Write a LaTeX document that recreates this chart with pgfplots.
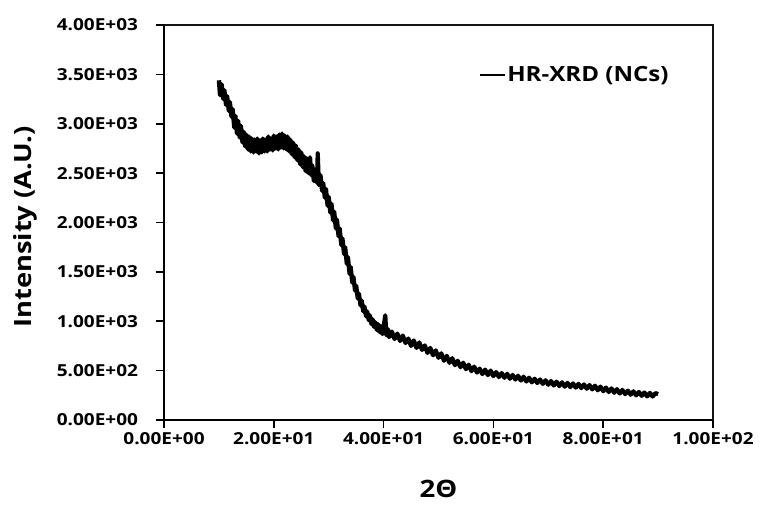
\documentclass[border=0pt]{standalone}
\usepackage{fontspec}
\setmainfont{Open Sans}[FakeStretch=1.15]
\usepackage{pgfplots}
\pgfplotsset{compat=1.18}
\definecolor{boxgray}{RGB}{20,20,20}
\begin{document}
\begin{tikzpicture}
\path (-123pt,-63pt) rectangle (449.25pt,315pt);
\begin{axis}[
  at={(0pt,0pt)}, anchor=south west,
  scale only axis, width=411.75pt, height=296.25pt,
  xmin=0, xmax=100, ymin=0, ymax=4000,
  xtick={0,20,40,60,80,100},
  ytick={0,500,1000,1500,2000,2500,3000,3500,4000},
  xticklabels={0.00E+00,2.00E+01,4.00E+01,6.00E+01,8.00E+01,1.00E+02},
  yticklabels={0.00E+00,5.00E+02,1.00E+03,1.50E+03,2.00E+03,2.50E+03,3.00E+03,3.50E+03,4.00E+03},
  xtick pos=left, ytick pos=left,
  tick align=outside, major tick length=6pt,
  major tick style={line width=1.2pt, black},
  axis line style={line width=1.5pt, black},
  ticklabel style={font=\fontsize{12.4}{15}\selectfont\bfseries},
  yticklabel style={xshift=-10pt},
  xlabel={2Θ}, ylabel={Intensity (A.U.)},
  xlabel style={at={(axis description cs:0.5,-0.1747)}, anchor=center, font=\fontsize{18}{20}\selectfont\bfseries},
  ylabel style={at={(axis description cs:-0.2532,0.489)}, anchor=center, font=\fontsize{17.8}{20}\selectfont\bfseries},
  legend style={at={(axis description cs:0.566,0.873)}, anchor=west, draw=none, fill=none,
    font=\fontsize{15.7}{18}\selectfont\bfseries, nodes={inner xsep=1pt}},
  legend image code/.code={\draw[line width=1.5pt] (0pt,0pt) -- (18.75pt,0pt);},
]
\addplot[black, line width=3.2pt, line join=round] coordinates {
(10.0,3440) (10.2,3290) (10.5,3400) (10.8,3250) (11.0,3340) (11.3,3190) (11.5,3280) (11.8,3130)
(12.0,3220) (12.3,3070) (12.5,3150) (12.8,2960) (13.0,3080) (13.3,2900) (13.5,3030) (13.8,2860)
(14.0,2980) (14.3,2810) (14.5,2920) (14.8,2770) (15.0,2890) (15.3,2740) (15.5,2870) (15.8,2720)
(16.0,2850) (16.3,2710) (16.5,2840) (16.8,2720) (17.0,2850) (17.3,2700) (17.5,2830) (17.8,2710)
(18.0,2850) (18.3,2720) (18.5,2840) (18.8,2720) (19.0,2870) (19.3,2740) (19.5,2850) (19.8,2730)
(20.0,2880) (20.3,2750) (20.5,2870) (20.8,2740) (21.0,2890) (21.3,2760) (21.5,2900) (21.8,2750)
(22.0,2880) (22.3,2740) (22.5,2870) (22.8,2720) (23.0,2840) (23.3,2690) (23.5,2810) (23.8,2660)
(24.0,2780) (24.3,2630) (24.5,2740) (24.8,2590) (25.0,2710) (25.3,2560) (25.5,2670) (25.8,2520)
(26.0,2650) (26.3,2500) (26.6,2660) (26.8,2480) (27.0,2580) (27.3,2420) (27.6,2540) (27.9,2400)
(28.0,2700) (28.2,2380) (28.5,2480) (28.8,2320) (29.0,2400) (29.3,2250) (29.5,2340) (29.8,2170)
(30.0,2260) (30.3,2100) (30.5,2190) (30.8,2020) (31.0,2110) (31.3,1940) (31.5,2030) (31.8,1860)
(32.0,1940) (32.3,1770) (32.5,1840) (32.8,1680) (33.0,1750) (33.3,1580) (33.5,1650) (33.8,1480)
(34.0,1550) (34.3,1390) (34.5,1450) (34.8,1310) (35.0,1360) (35.3,1230) (35.5,1280) (35.8,1160)
(36.0,1210) (36.3,1100) (36.5,1150) (36.8,1050) (37.0,1100) (37.3,1010) (37.5,1060) (37.8,970)
(38.0,1020) (38.3,940) (38.5,990) (38.8,910) (39.0,970) (39.3,890) (39.5,950) (39.8,870)
(40.0,930) (40.3,1060) (40.5,860) (40.8,920) (41.0,840) (41.5,895) (42.0,820) (42.5,875)
(43.0,800) (43.5,855) (44.0,780) (44.5,825) (45.0,750) (45.5,805) (46.0,730) (46.5,785)
(47.0,710) (47.5,755) (48.0,680) (48.5,730) (49.0,655) (49.5,705) (50.0,630) (50.5,675)
(51.0,600) (51.5,650) (52.0,580) (52.5,625) (53.0,555) (53.5,600) (54.0,535) (54.5,580)
(55.0,515) (55.5,560) (56.0,495) (56.5,540) (57.0,480) (57.5,520) (58.0,465) (58.5,510)
(59.0,455) (59.5,500) (60.0,445) (60.5,485) (61.0,435) (61.5,475) (62.0,428) (62.5,468)
(63.0,418) (63.5,456) (64.0,410) (64.5,448) (65.0,400) (65.5,438) (66.0,390) (66.5,428)
(67.0,382) (67.5,418) (68.0,374) (68.5,410) (69.0,366) (69.5,402) (70.0,358) (70.5,394)
(71.0,350) (71.5,388) (72.0,344) (72.5,382) (73.0,338) (73.5,376) (74.0,333) (74.5,370)
(75.0,328) (75.5,365) (76.0,323) (76.5,360) (77.0,317) (77.5,354) (78.0,310) (78.5,347)
(79.0,301) (79.5,338) (80.0,292) (80.5,328) (81.0,284) (81.5,320) (82.0,276) (82.5,312)
(83.0,269) (83.5,304) (84.0,262) (84.5,297) (85.0,256) (85.5,290) (86.0,250) (86.5,284)
(87.0,245) (87.5,278) (88.0,240) (88.5,274) (89.0,238) (89.5,272) (90.0,262)
};
\addlegendentry{HR-XRD (NCs)}
\end{axis}
\draw[boxgray, line width=1.6pt] (0pt,296.25pt) -- (411.75pt,296.25pt) -- (411.75pt,0pt);
\end{tikzpicture}
\end{document}
